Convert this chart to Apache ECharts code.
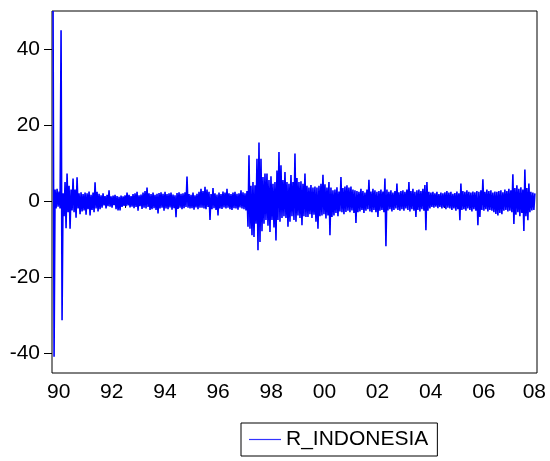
<!DOCTYPE html>
<html>
<head>
<meta charset="utf-8">
<title>R_INDONESIA</title>
<script src="https://cdn.jsdelivr.net/npm/echarts@6/dist/echarts.min.js"></script>
<style>
  html, body { margin: 0; padding: 0; background: #ffffff; }
  #chart { width: 550px; height: 461px; }
</style>
</head>
<body>
<div id="chart"></div>
<script>
// Daily returns of the Indonesian stock index (percent), in observation order.
const ret1990_91 = [
  50, -41, 3, -2, 3.2, -1.5, 2.5, -2, 44.9, -31.4,
  2, -4, 5, -7.2, 7.2, -3, 4, -7.3, 3, -2.5,
  5.9, -3, 3, -4.4, 6.2, -2, 2, -3.5, 2.3, -2.8,
  1.8, -2.5, 2.2, -3.6, 2.0, -2.2, 2.5, -3.8, 1.6, -2.4,
  2.2, -3, 4.9, -2, 2.4, -2.8, 1.9, -2.2
];
const ret1992_95 = [
  1.5, -1.8, 2.0, -1.2, 1.3, -2.0, 1.6, -1.4, 2.8, -1.5,
  1.2, -1.8, 1.4, -1.1, 1.6, -2.2, 1.3, -2.5, 1.1, -2.5,
  1.4, -1.6, 1.2, -1.3, 1.5, -1.4, 2.2, -1.2, 1.6, -1.7,
  1.3, -1.5, 1.8, -1.9, 2.0, -1.6, 2.4, -2.6, 1.5, -1.4,
  1.7, -2.1, 2.2, -1.8, 2.6, -2.0, 3.5, -1.6, 2.0, -2.4,
  1.8, -2.2, 2.2, -1.9, 1.6, -2.4, 1.9, -3.3, 2.1, -2.0,
  2.3, -1.8, 1.9, -2.6, 2.4, -2.0, 1.8, -2.2, 2.0, -1.7,
  2.2, -2.3, 1.7, -1.9, 1.5, -4.3, 2.1, -2.1, 2.3, -1.8,
  1.9, -2.2, 2.0, -1.9, 2.3, -1.6, 6.4, -1.8, 1.8, -2.0,
  1.6, -1.9, 2.2, -2.3, 1.5, -1.7, 1.9, -2.2, 2.4, -1.8
];
const ret1996_97 = [
  3.2, -1.8, 2.6, -2.0, 3.7, -2.2, 3.0, -1.6, 2.4, -5.0,
  1.8, -2.2, 3.4, -1.9, 2.0, -2.4, 1.7, -3.8, 2.2, -2.0,
  1.8, -2.1, 2.5, -1.7, 2.2, -2.0, 3.2, -1.8, 2.0, -2.2,
  1.8, -2.4, 2.2, -1.9, 2.4, -2.0, 1.9, -2.3, 2.0, -1.7,
  2.8, -2.0, 2.3, -2.2, 2.0, -2.5, 2.6
];
const ret1997_99 = [
  -6.8, 12.0, -7.3, 4.0, -9.0, 5.0, -9.5, 4.1, -6.0, 11.1,
  -13.0, 15.4, -10.8, 11.1, -8.0, 6.3, -6.0, 7.2, -5.0, 7.2,
  -6.5, 5.5, -8.2, 6.5, -5.0, 4.5, -7.0, 5.0, -10.4, 8.0,
  -5.0, 12.9, -5.5, 9.4, -4.5, 5.5, -4.0, 7.6, -4.5, 5.0,
  -6.8, 4.5, -5.5, 6.8, -4.0, 5.0, -5.0, 12.5, -5.5, 6.0,
  -3.8, 5.0, -4.5
];
const ret1999_01 = [
  5.2, -6.4, 4.5, -4.0, 7.2, -4.2, 4.0, -4.2, 3.5, -3.5,
  4.2, -4.5, 3.5, -3.6, 3.8, -5.5, 3.5, -7.3, 4.0, -4.0,
  4.5, -3.8, 6.9, -3.5, 4.4, -4.6, 3.5, -3.8, 5.0, -9.0,
  3.5, -4.2, 2.8, -3.8, 3.0, -3.2, 3.6, -4.0, 2.5, -2.8,
  6.3, -3.0, 3.4, -3.5, 3.8
];
const ret2001_03 = [
  -2.9, 4.1, -2.6, 3.5, -3.0, 3.8, -2.5, 3.0, -3.2, 2.8,
  -5.8, 2.6, -3.0, 2.4, -2.8, 3.2, -2.4, 2.6, -3.2, 2.2,
  -2.6, 3.0, -2.2, 5.6, -2.8, 2.5, -3.0, 3.2, -2.4, 2.8,
  -3.0, 2.4, -4.2, 2.6, -2.6, 3.0, -2.4, 2.5, -3.0, 5.9,
  -11.9, 3.0, -2.5, 2.4, -2.2, 2.8, -2.8, 2.2, -2.4, 2.6,
  -2.0, 4.6, -2.4, 2.3, -2.6
];
const ret2003_05 = [
  2.6, -2.2, 2.8, -2.6, 2.4, -2.0, 3.0, -2.4, 5.0, -2.8,
  2.6, -2.2, 3.2, -2.6, 2.4, -4.2, 2.8, -2.4, 3.0, -2.8,
  2.6, -2.2, 3.2, -2.6, 4.2, -7.7, 5.0, -2.6, 2.4, -2.0,
  2.2, -1.6, 2.4, -1.8, 2.0, -1.5, 2.4, -1.9, 1.8, -1.6,
  2.2, -2.0, 2.0, -1.7, 2.3, -2.2, 2.6, -1.8, 2.2, -2.0,
  2.4, -2.4, 1.9, -2.0, 2.1, -2.6, 2.5, -2.2, 2.0, -5.1,
  4.6
];
const ret2005_08 = [
  -2.4, 2.6, -2.2, 2.4, -2.6, 2.8, -2.0, 2.4, -2.4, 2.2,
  -2.8, 2.5, -2.2, 2.3, -2.6, 2.6, -6.4, 2.4, -4.2, 2.8,
  -2.4, 5.7, -2.6, 2.4, -2.2, 3.0, -2.8, 2.6, -2.4, 2.8,
  -2.6, 2.2, -3.0, 2.5, -3.4, 2.4, -3.8, 2.6, -3.2, 2.8,
  -3.5, 2.3, -2.6, 3.0, -2.4, 2.6, -2.8, 3.2, -2.6, 2.8,
  -3.0, 7.0, -6.1, 3.4, -3.6, 4.1, -3.0, 3.2, -4.0, 3.6,
  -3.2, 3.0, -7.9, 8.3, -4.0, 3.4, -5.1, 4.6, -3.0, 2.4,
  -2.5, 2.2, -2.4, 2.0
];

// Sample period, in decimal years
const obsStart = 1990.29;
const obsEnd = 2008.42;

// Axis ticks and labels
const yearTicks = [1991, 1992, 1993, 1994, 1995, 1996, 1997, 1998, 1999, 2000,
                   2001, 2002, 2003, 2004, 2005, 2006, 2007, 2008];
const yearLabels = [1990.5, 1992.5, 1994.5, 1996.5, 1998.5, 2000.5,
                    2002.5, 2004.5, 2006.5, 2008.4];
const valueTicks = [-40, -20, 0, 20, 40];

const returns = [].concat(ret1990_91, ret1992_95, ret1996_97, ret1997_99,
                          ret1999_01, ret2001_03, ret2003_05, ret2005_08);
const step = (obsEnd - obsStart) / (returns.length - 1);
const seriesData = returns.map((v, i) => [obsStart + i * step, v]);

const FONT = "'Liberation Sans', Arial, sans-serif";

const chart = echarts.init(document.getElementById('chart'), null, { renderer: 'canvas' });
chart.setOption({
  backgroundColor: '#ffffff',
  animation: false,
  grid: {
    left: 52, right: 13, top: 11, bottom: 88,
    show: true, borderColor: '#000000', borderWidth: 1, backgroundColor: 'transparent'
  },
  xAxis: {
    type: 'value',
    min: 1990.25,
    max: 2008.5,
    splitLine: { show: false },
    axisLine: { show: false },
    axisTick: {
      show: true, length: 7, inside: false,
      customValues: yearTicks,
      lineStyle: { color: '#000000', width: 1 }
    },
    axisLabel: {
      customValues: yearLabels,
      margin: 9,
      color: '#000000',
      fontFamily: FONT,
      fontSize: 21,
      formatter: v => String(Math.floor(v) % 100).padStart(2, '0')
    }
  },
  yAxis: {
    type: 'value',
    min: -45.3,
    max: 50,
    splitLine: { show: false },
    axisLine: { show: false },
    axisTick: {
      show: true, length: 8, inside: false,
      customValues: valueTicks,
      lineStyle: { color: '#000000', width: 1 }
    },
    axisLabel: {
      customValues: valueTicks,
      margin: 12,
      color: '#000000',
      fontFamily: FONT,
      fontSize: 21
    }
  },
  legend: {
    left: 241,
    top: 423,
    padding: [6, 9, 6, 8],
    borderColor: '#000000',
    borderWidth: 1,
    icon: 'rect',
    itemWidth: 32,
    itemHeight: 1.2,
    itemGap: 10,
    itemStyle: { color: '#3333ff' },
    textStyle: { color: '#000000', fontFamily: FONT, fontSize: 21 },
    data: ['R_INDONESIA']
  },
  series: [{
    name: 'R_INDONESIA',
    type: 'line',
    data: seriesData,
    symbol: 'none',
    showSymbol: false,
    clip: true,
    lineStyle: { color: '#0000ff', width: 1.6 },
    itemStyle: { color: '#0000ff' }
  }]
});
</script>
</body>
</html>
